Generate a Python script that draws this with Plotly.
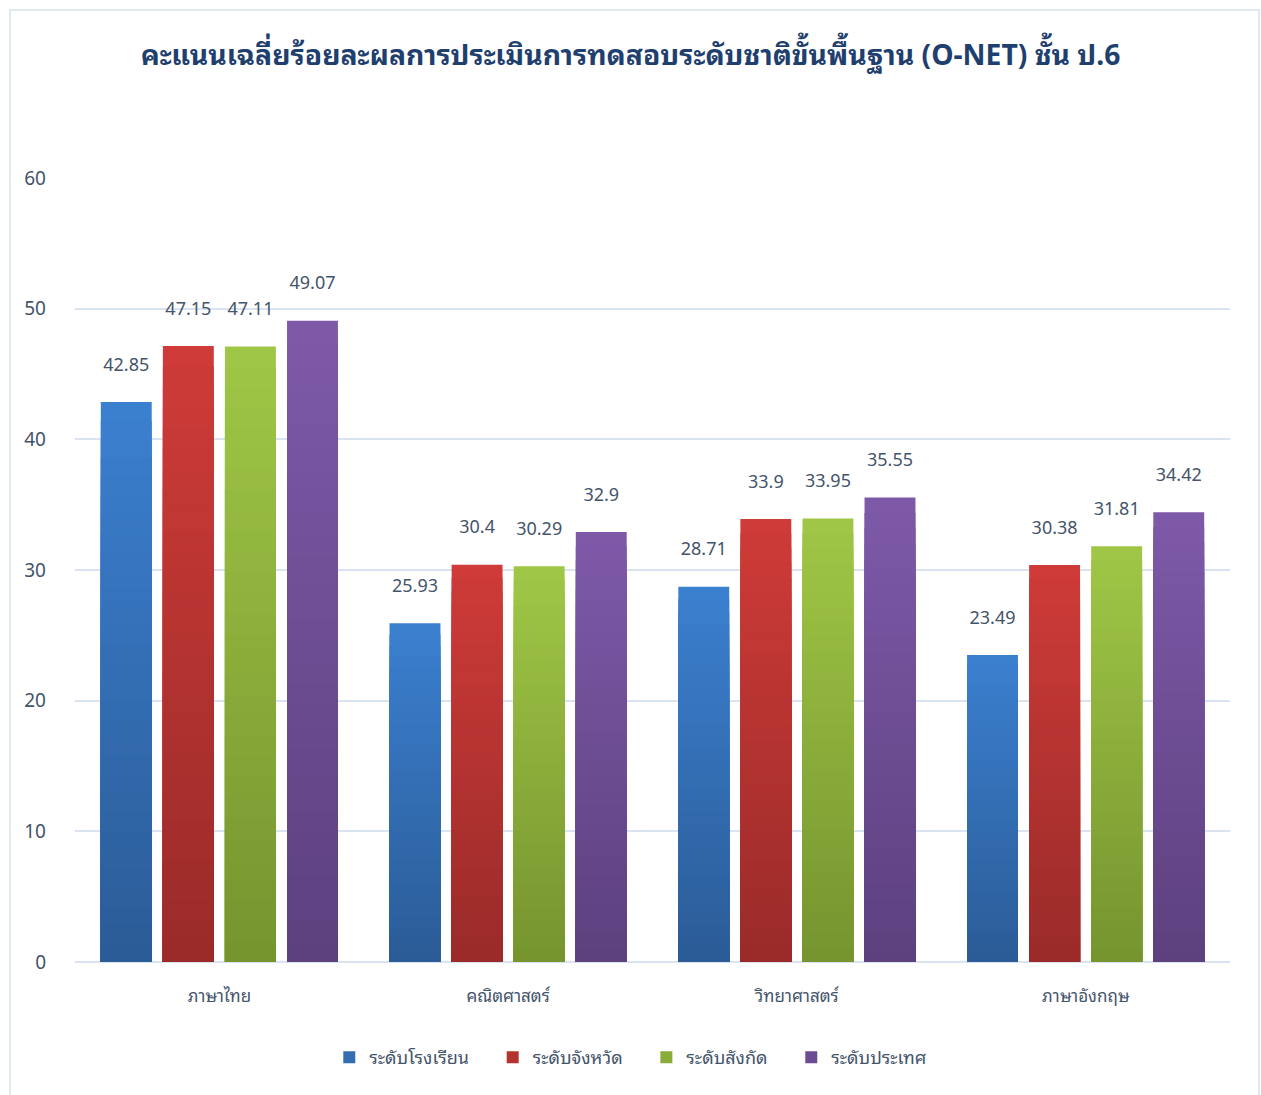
import plotly.graph_objects as go

categories = ["ภาษาไทย", "คณิตศาสตร์", "วิทยาศาสตร์", "ภาษาอังกฤษ"]
series_names = ["ระดับโรงเรียน", "ระดับจังหวัด", "ระดับสังกัด", "ระดับประเทศ"]
school = [42.85, 25.93, 28.71, 23.49]
province = [47.15, 30.4, 33.9, 30.38]
affiliation = [47.11, 30.29, 33.95, 31.81]
country = [49.07, 32.9, 35.55, 34.42]
y_ticks = [0, 10, 20, 30, 40, 50, 60]

series_values = [school, province, affiliation, country]
top_colors = ["#3b7fcf", "#ce3b38", "#9fc646", "#7d59a8"]
bottom_colors = ["#2b5c97", "#9a2b29", "#76952f", "#5d417f"]

FONT = "Noto Sans, Tahoma, Leelawadee UI, Noto Sans Thai Looped, Garuda, Loma, sans-serif"
TXT = "#44546a"

def hex2rgb(h):
    h = h.lstrip("#")
    return tuple(int(h[i:i + 2], 16) for i in (0, 2, 4))

def mix(c1, c2, t):
    a, b = hex2rgb(c1), hex2rgb(c2)
    return "rgb(%d,%d,%d)" % tuple(round(a[i] + (b[i] - a[i]) * t) for i in range(3))

N = 30
fig = go.Figure()
for s, (name, vals) in enumerate(zip(series_names, series_values)):
    for k in range(N):
        frac = (N - k) / N
        col = mix(top_colors[s], bottom_colors[s], k / (N - 1))
        fig.add_trace(go.Bar(
            x=categories,
            y=[v * frac for v in vals],
            name=name + "\u00a0\u00a0\u00a0\u00a0",
            offsetgroup=str(s),
            legendgroup=name,
            showlegend=(k == N // 2),
            legendrank=s + 1,
            marker=dict(color=col, line=dict(width=0)),
            text=[f"{v:g}" for v in vals] if k == 0 else None,
            texttemplate="%{text}<br> " if k == 0 else None,
            textposition="outside" if k == 0 else "none",
            textfont=dict(family=FONT, size=18, color=TXT),
            cliponaxis=False,
            hoverinfo="skip" if k else None,
        ))

fig.update_layout(
    width=1261, height=1095,
    paper_bgcolor="white", plot_bgcolor="white",
    barmode="group", bargap=0.14, bargroupgap=0.18,
    margin=dict(l=75, r=31, t=178, b=133),
    title=dict(
        text="<b>คะแนนเฉลี่ยร้อยละผลการประเมินการทดสอบระดับชาติขั้นพื้นฐาน (O-NET) ชั้น ป.6</b>",
        x=0.5, xanchor="center", y=1 - 55 / 1095, yanchor="middle",
        font=dict(family=FONT, size=28.3, color="#1f3f6e"),
    ),
    font=dict(family=FONT, color=TXT),
    legend=dict(
        orientation="h", x=0.489, xanchor="center", y=-0.122, yanchor="middle",
        font=dict(family=FONT, size=18, color=TXT),
        traceorder="normal", itemwidth=30,
    ),
    showlegend=True,
)
fig.update_yaxes(
    range=[0, 60], tickvals=y_ticks, showgrid=True, gridcolor="#d9e3f2", gridwidth=1.5,
    zeroline=True, zerolinecolor="#d9e3f2", zerolinewidth=1.5,
    tickfont=dict(family=FONT, size=19, color=TXT), ticks="", ticklabelstandoff=28,
    showline=False,
)
fig.update_xaxes(
    tickfont=dict(family=FONT, size=17, color=TXT), ticks="", ticklabelstandoff=22,
    showline=False,
)
x0 = (10 - 75) / 1155
x1 = (1259 - 75) / 1155
y1 = (962 - 10) / 784
y0 = (962 - 1110) / 784
fig.add_shape(type="rect", xref="paper", yref="paper", x0=x0, x1=x1, y0=y0, y1=y1,
              line=dict(color="#d6e1f1", width=1.5), layer="below")

fig.write_html(
    "out.html",
    config={"displayModeBar": False},
    post_script="document.body.style.margin='0';document.body.style.overflow='hidden';",
)
